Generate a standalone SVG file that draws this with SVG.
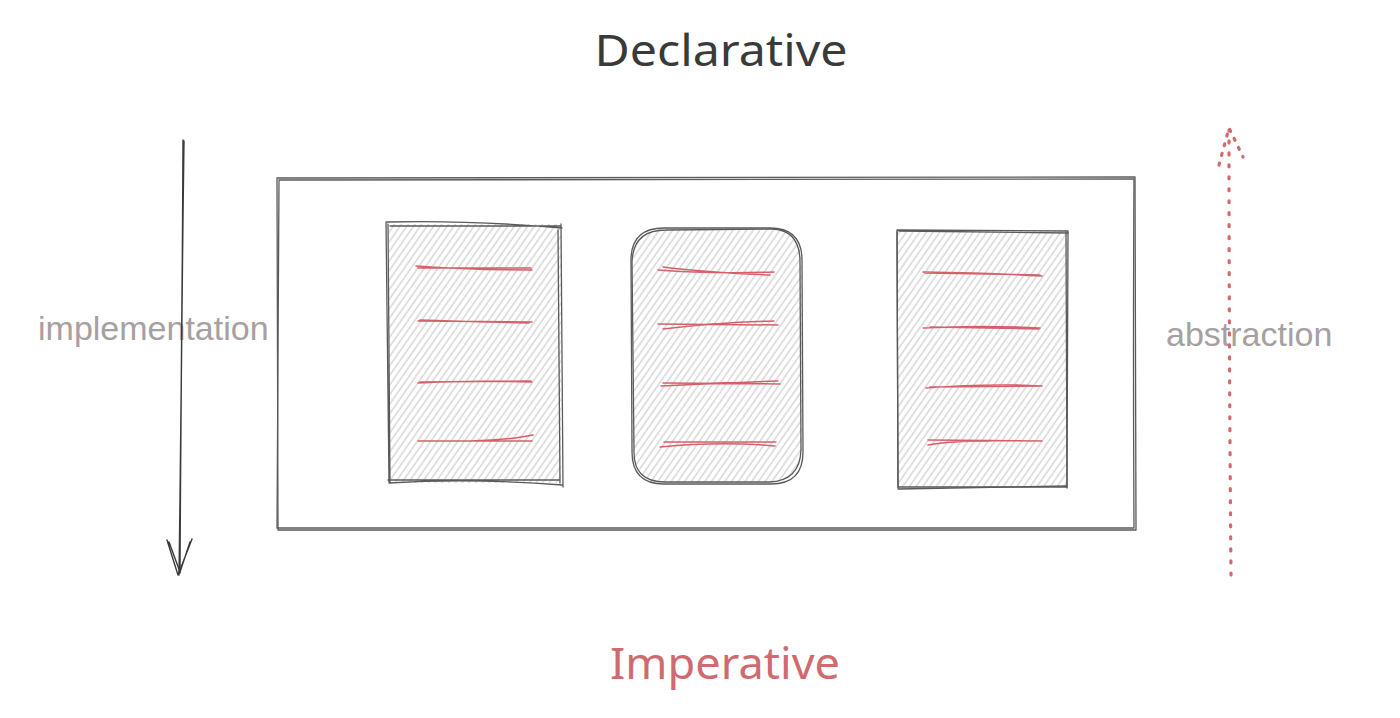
<svg xmlns="http://www.w3.org/2000/svg" width="1400" height="718" viewBox="0 0 1400 718">
<defs>
<pattern id="hatch" width="5.5" height="6" patternUnits="userSpaceOnUse" patternTransform="rotate(35)">
<line x1="1" y1="0" x2="1" y2="6" stroke="#cdcdcd" stroke-width="1.2"/>
</pattern>
</defs>
<style>
.sk{fill:none;stroke:#5a5a5a;stroke-width:1.3;stroke-linecap:round;stroke-linejoin:round}
.rl{fill:none;stroke:#d6606a;stroke-width:1.5;stroke-linecap:round}
.lbl{font-family:"Liberation Sans",Arial,sans-serif;font-size:34px;fill:#a6a0a1}
.title{font-family:"Noto Sans","DejaVu Sans",sans-serif;font-size:44px}
</style>
<rect width="1400" height="718" fill="#ffffff"/>

<g id="title-declarative">
<text class="title" x="721" y="66" text-anchor="middle" textLength="253" lengthAdjust="spacingAndGlyphs" fill="#3a3a3a">Declarative</text>
</g>
<g id="title-imperative">
<text class="title" x="725" y="679" text-anchor="middle" textLength="230" lengthAdjust="spacingAndGlyphs" fill="#d06a6f">Imperative</text>
</g>

<g id="label-implementation">
<text class="lbl" x="38" y="340">implementation</text>
</g>
<g id="label-abstraction">
<text class="lbl" x="1166" y="346">abstraction</text>
</g>

<g id="outer-box">
<path class="sk" d="M277 178 L1135 177 L1136 530 L278 530 Z"/>
<path class="sk" d="M279 180 Q700 180 1134 179 Q1133 350 1134 528 Q700 527 277 528 Q278 350 279 180"/>
</g>

<g id="box-left">
<rect x="389" y="224" width="172" height="259" fill="url(#hatch)"/>
<path class="sk" d="M387 222 Q470 220 562 228 M390 226 L560 226 M561 224 L563 487 M558 230 L560 483 M389 483 Q470 478 562 485 M388 480 L560 480 M388 224 L390 483 M386 222 L389 482"/>
<path class="rl" d="M416 266 Q470 270 532 270 M418 268 L531 268"/>
<path class="rl" d="M418 321 L532 322 M420 320 Q480 322 529 323"/>
<path class="rl" d="M418 383 Q470 380 532 382 M420 382 L531 381"/>
<path class="rl" d="M418 441 L532 441 M470 441 Q510 440 533 435"/>
</g>

<g id="box-middle">
<rect x="632" y="229" width="170" height="254" rx="32" fill="url(#hatch)"/>
<path class="sk" d="M664 228 L770 228 Q802 228 802 260 L803 452 Q803 484 771 484 L664 484 Q632 484 632 452 L631 260 Q631 228 664 228 Z"/>
<path class="sk" d="M666 230 L772 229 Q800 230 800 262 L801 450 Q800 481 769 482 L665 482 Q633 482 634 450 L632 262 Q633 230 666 230"/>
<path class="rl" d="M658 270 Q710 274 774 272 M663 267 Q700 272 770 275"/>
<path class="rl" d="M658 324 L778 325 M663 329 Q720 322 774 321"/>
<path class="rl" d="M663 383 L780 384 M661 386 Q720 383 778 381"/>
<path class="rl" d="M664 442 L776 442 M660 447 Q720 441 775 446"/>
</g>

<g id="box-right">
<rect x="898" y="231" width="169" height="256" fill="url(#hatch)"/>
<path class="sk" d="M897 230 L1068 231 L1067 487 L898 487 Z"/>
<path class="sk" d="M899 231 L1068 233 M1066 232 L1067 488 M898 489 L1066 486 M897 232 L898 488"/>
<path class="rl" d="M923 272 Q990 273 1042 276 M925 273 L1040 275"/>
<path class="rl" d="M923 328 Q980 325 1040 328 M930 327 L1039 329"/>
<path class="rl" d="M926 388 Q990 383 1042 386 M930 387 L1041 386"/>
<path class="rl" d="M928 440 L1042 441 M928 445 Q950 441 990 441"/>
</g>

<g id="connectors">
<g id="arrow-implementation">
<path class="sk" style="stroke:#3a3a3a;stroke-width:1.4" d="M183 140 Q182 360 179 575 M184 141 Q181 360 180 573"/>
<path class="sk" style="stroke:#3a3a3a;stroke-width:1.4" d="M167 540 L178 575 L192 539 M169 542 L180 572 L190 542"/>
</g>
<g id="arrow-abstraction">
<path fill="none" stroke="#d06a6f" stroke-width="3.2" stroke-linecap="round" stroke-dasharray="2 10" d="M1231 575 Q1229 350 1229 130"/>
<path fill="none" stroke="#d06a6f" stroke-width="3.2" stroke-linecap="round" stroke-dasharray="2 8" d="M1219 165 L1229 128 L1243 157"/>
</g>
</g>
</svg>
